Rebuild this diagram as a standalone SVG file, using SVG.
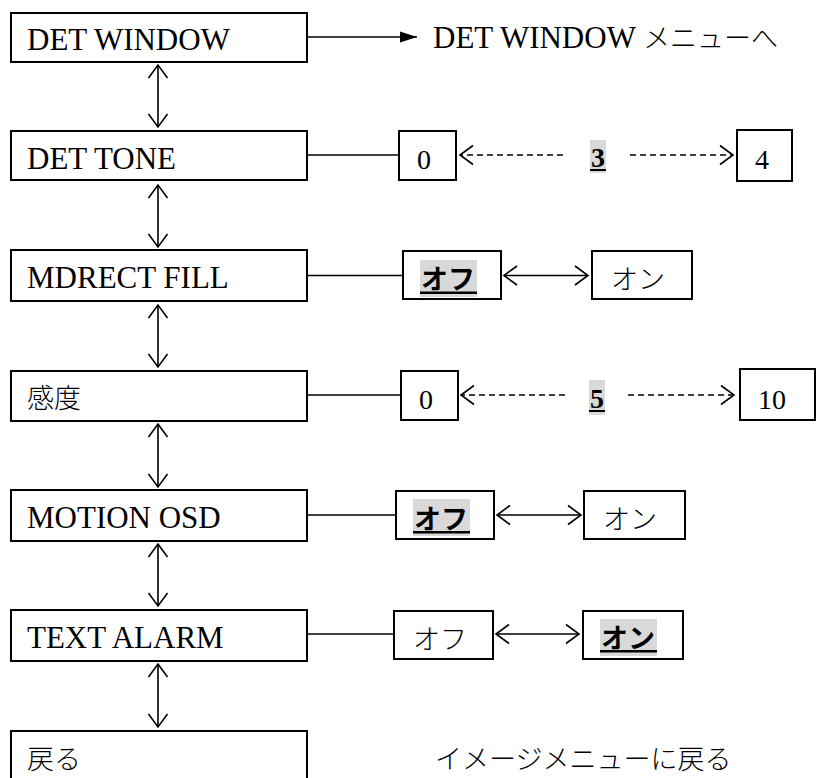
<svg xmlns="http://www.w3.org/2000/svg" width="816" height="778" viewBox="0 0 816 778">
<style>
.box{fill:#fff;stroke:#000;stroke-width:2}
.ln{fill:none;stroke:#000;stroke-width:1.6}
.dash{fill:none;stroke:#000;stroke-width:1.6;stroke-dasharray:6 4}
.lbl{font-family:"Liberation Serif","Noto Sans CJK JP",serif;font-size:31px;fill:#000}
.jp{font-family:"Noto Sans CJK JP","Liberation Serif",serif;font-size:27px;fill:#000;font-weight:300}
.num{font-family:"Liberation Serif",serif;font-size:28px;fill:#000}
.sel{font-weight:bold}
.hl{fill:#d9d9d9}
.ul{fill:#000}
</style>
<defs>
<marker id="v" markerUnits="userSpaceOnUse" markerWidth="16" markerHeight="22" refX="14" refY="11" orient="auto-start-reverse">
<path d="M1,1.5 L14,11 L1,20.5" fill="none" stroke="#000" stroke-width="1.6"/>
</marker>
<marker id="tri" markerUnits="userSpaceOnUse" markerWidth="18" markerHeight="12" refX="17" refY="6" orient="auto">
<path d="M0,0.5 L17,6 L0,11.5 z" fill="#000"/>
</marker>
</defs>

<g id="connectors">
<path class="ln" d="M307,37 H417" marker-end="url(#tri)"/>
<path class="ln" d="M158,65 V127" marker-start="url(#v)" marker-end="url(#v)"/>
<path class="ln" d="M158,185 V247" marker-start="url(#v)" marker-end="url(#v)"/>
<path class="ln" d="M158,305 V367" marker-start="url(#v)" marker-end="url(#v)"/>
<path class="ln" d="M158,424 V487" marker-start="url(#v)" marker-end="url(#v)"/>
<path class="ln" d="M158,544 V606" marker-start="url(#v)" marker-end="url(#v)"/>
<path class="ln" d="M158,664 V727" marker-start="url(#v)" marker-end="url(#v)"/>
<path class="ln" d="M307,155 H399"/>
<path class="dash" d="M563,155 H460" marker-end="url(#v)"/>
<path class="dash" d="M630,155 H733" marker-end="url(#v)"/>
<path class="ln" d="M307,275.5 H403"/>
<path class="ln" d="M504,275.5 H588" marker-start="url(#v)" marker-end="url(#v)"/>
<path class="ln" d="M307,395 H401"/>
<path class="dash" d="M565,395 H461" marker-end="url(#v)"/>
<path class="dash" d="M628,395 H734" marker-end="url(#v)"/>
<path class="ln" d="M307,515 H396"/>
<path class="ln" d="M497,515 H581" marker-start="url(#v)" marker-end="url(#v)"/>
<path class="ln" d="M307,634 H394"/>
<path class="ln" d="M496,634 H579" marker-start="url(#v)" marker-end="url(#v)"/>
</g>

<g id="det-window">
<rect class="box" x="11" y="13" width="296" height="49"/>
<text class="lbl" x="27" y="50">DET WINDOW</text>
</g>
<g id="det-window-target">
<text class="lbl" x="433" y="48">DET WINDOW <tspan style="font-family:'Noto Sans CJK JP',sans-serif;font-size:27px;font-weight:300">メニューへ</tspan></text>
</g>

<g id="det-tone">
<rect class="box" x="11" y="131" width="296" height="49"/>
<text class="lbl" x="27" y="169">DET TONE</text>
</g>
<g id="det-tone-0">
<rect class="box" x="399" y="131" width="57" height="49"/>
<text class="num" x="417" y="169">0</text>
</g>
<g id="det-tone-3">
<rect class="hl" x="590" y="140" width="16" height="33"/>
<text class="num sel" x="591" y="167">3</text>
<rect class="ul" x="590" y="169" width="16" height="2"/>
</g>
<g id="det-tone-4">
<rect class="box" x="737" y="130" width="55" height="51"/>
<text class="num" x="755" y="169">4</text>
</g>

<g id="mdrect-fill">
<rect class="box" x="11" y="250" width="296" height="51"/>
<text class="lbl" x="27" y="288">MDRECT FILL</text>
</g>
<g id="mdrect-off">
<rect class="box" x="403" y="251" width="98" height="48"/>
<rect class="hl" x="420" y="260" width="57" height="37"/>
<text class="jp sel" x="421" y="289">オフ</text>
<rect class="ul" x="420" y="291.5" width="57" height="2.5"/>
</g>
<g id="mdrect-on">
<rect class="box" x="592" y="251" width="100" height="48"/>
<text class="jp" x="611" y="289">オン</text>
</g>

<g id="sensitivity">
<rect class="box" x="11" y="371" width="296" height="50"/>
<text class="jp" x="27" y="408">感度</text>
</g>
<g id="sens-0">
<rect class="box" x="401" y="371" width="57" height="49"/>
<text class="num" x="419" y="409">0</text>
</g>
<g id="sens-5">
<rect class="hl" x="589" y="380" width="16" height="35"/>
<text class="num sel" x="590" y="408">5</text>
<rect class="ul" x="589" y="410" width="16" height="2"/>
</g>
<g id="sens-10">
<rect class="box" x="740" y="369" width="75" height="51"/>
<text class="num" x="758" y="409">10</text>
</g>

<g id="motion-osd">
<rect class="box" x="11" y="490" width="296" height="51"/>
<text class="lbl" x="27" y="528">MOTION OSD</text>
</g>
<g id="motion-off">
<rect class="box" x="396" y="491" width="98" height="48"/>
<rect class="hl" x="413" y="499" width="57" height="37"/>
<text class="jp sel" x="414" y="529">オフ</text>
<rect class="ul" x="413" y="531" width="57" height="2.5"/>
</g>
<g id="motion-on">
<rect class="box" x="584" y="491" width="101" height="48"/>
<text class="jp" x="603" y="529">オン</text>
</g>

<g id="text-alarm">
<rect class="box" x="11" y="610" width="296" height="51"/>
<text class="lbl" x="27" y="648">TEXT ALARM</text>
</g>
<g id="alarm-off">
<rect class="box" x="394" y="611" width="99" height="48"/>
<text class="jp" x="413" y="649">オフ</text>
</g>
<g id="alarm-on">
<rect class="box" x="583" y="611" width="100" height="48"/>
<rect class="hl" x="600" y="619" width="57" height="37"/>
<text class="jp sel" x="601" y="648">オン</text>
<rect class="ul" x="600" y="650" width="57" height="2.5"/>
</g>

<g id="back">
<rect class="box" x="11" y="731" width="296" height="52"/>
<text class="jp" x="27" y="769">戻る</text>
</g>
<g id="back-target">
<text class="jp" x="435" y="769">イメージメニューに戻る</text>
</g>
</svg>
